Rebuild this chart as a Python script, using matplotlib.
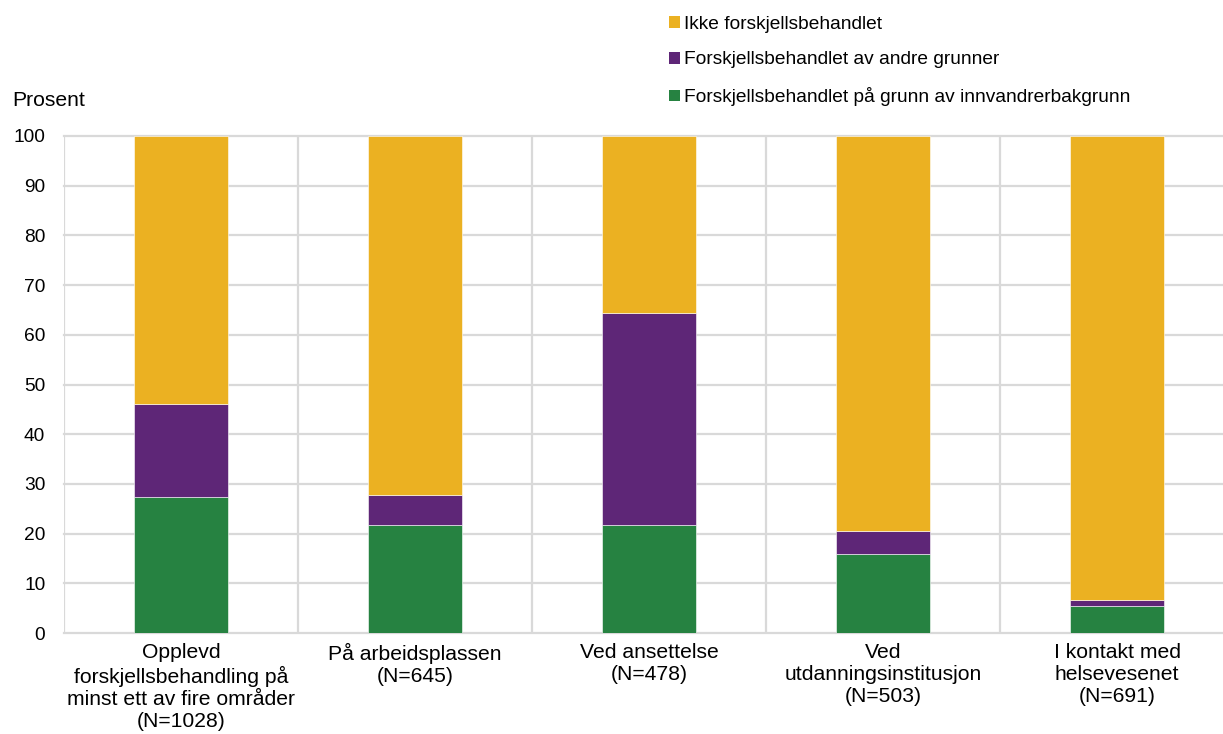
import matplotlib
matplotlib.use("Agg")
import matplotlib.pyplot as plt
from matplotlib.patches import Patch

plt.rcParams['font.family'] = ['Liberation Sans', 'DejaVu Sans']

categories = [
    "Opplevd\nforskjellsbehandling på\nminst ett av fire områder\n(N=1028)",
    "På arbeidsplassen\n(N=645)",
    "Ved ansettelse\n(N=478)",
    "Ved\nutdanningsinstitusjon\n(N=503)",
    "I kontakt med\nhelsevesenet\n(N=691)",
]
innvandrer = [27.3, 21.7, 21.7, 15.9, 5.5]
andre = [18.8, 6.1, 42.7, 4.6, 1.2]
ikke = [53.9, 72.2, 35.6, 79.5, 93.3]

series_labels = [
    "Ikke forskjellsbehandlet",
    "Forskjellsbehandlet av andre grunner",
    "Forskjellsbehandlet på grunn av innvandrerbakgrunn",
]
colors = {"ikke": "#EBB122", "andre": "#5E2677", "innv": "#268241"}
grid_color = "#D9D9D9"

fig = plt.figure(figsize=(12.23, 7.34), dpi=100)
ax = fig.add_axes([64/1223, 1-633/734, 1170/1223, (633-136)/734])

x = list(range(len(categories)))
w = 0.4
ax.bar(x, innvandrer, w, color=colors["innv"], edgecolor="white", linewidth=0.4, zorder=3)
bottom2 = innvandrer
ax.bar(x, andre, w, bottom=bottom2, color=colors["andre"], edgecolor="white", linewidth=0.4, zorder=3)
bottom3 = [a + b for a, b in zip(innvandrer, andre)]
ax.bar(x, ikke, w, bottom=bottom3, color=colors["ikke"], edgecolor="white", linewidth=0.4, zorder=3)

ax.set_xlim(-0.5, 4.5)
ax.set_ylim(0, 100)
for s in ax.spines.values():
    s.set_visible(False)
for yv in range(0, 101, 10):
    ax.axhline(yv, color=grid_color, lw=1.6, zorder=1, clip_on=False)
for xv in [-0.5, 0.5, 1.5, 2.5, 3.5]:
    ax.axvline(xv, color=grid_color, lw=1.6, zorder=1)

ax.set_yticks(range(0, 101, 10))
ax.tick_params(axis='y', length=0, labelsize=13.8, pad=13.5)
ax.set_xticks(x)
ax.set_xticklabels(categories, fontsize=15.2, linespacing=1.22)
ax.tick_params(axis='x', length=0, pad=7)

fig.text(12/1223, 1-100/734, "Prosent", fontsize=15.2, va="center", ha="left")

handles = [Patch(facecolor=colors["ikke"]), Patch(facecolor=colors["andre"]), Patch(facecolor=colors["innv"])]
fig.legend(handles, series_labels, loc="upper left", bbox_to_anchor=(661/1223, 1-8/734),
           frameon=False, fontsize=13.8, handlelength=0.57, handleheight=0.57,
           handletextpad=0.22, labelspacing=0.98, borderaxespad=0)

fig.savefig("out.png", dpi=100)
